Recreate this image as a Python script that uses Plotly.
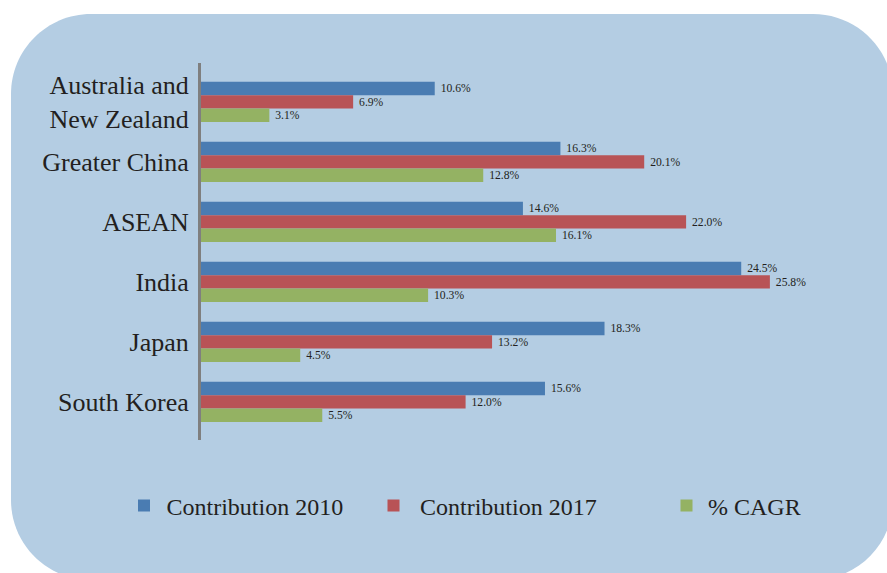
import plotly.graph_objects as go

W, H = 887, 573

categories = ["Australia and<br>New Zealand", "Greater China", "ASEAN", "India", "Japan", "South Korea"]
contrib_2010 = [10.6, 16.3, 14.6, 24.5, 18.3, 15.6]
contrib_2017 = [6.9, 20.1, 22.0, 25.8, 13.2, 12.0]
cagr = [3.1, 12.8, 16.1, 10.3, 4.5, 5.5]
series_names = ["Contribution 2010", "Contribution 2017", "% CAGR"]

colors = ["#4A7CB2", "#B85356", "#94B263"]
bg = "#B4CDE3"
txt = "#231F20"
serif = "Liberation Serif"


def P(x, y):
    return f"{x / W:.5f},{1 - y / H:.5f}"


# rounded background panel (pixel geometry converted to paper coords)
L, T, R, B, r = 11, 14, 893, 580, 80
k = 0.5523 * r
path = (
    f"M{P(L + r, T)} L{P(R - r, T)} "
    f"C{P(R - r + k, T)} {P(R, T + r - k)} {P(R, T + r)} "
    f"L{P(R, B - r)} "
    f"C{P(R, B - r + k)} {P(R - r + k, B)} {P(R - r, B)} "
    f"L{P(L + r, B)} "
    f"C{P(L + r - k, B)} {P(L, B - r + k)} {P(L, B - r)} "
    f"L{P(L, T + r)} "
    f"C{P(L, T + r - k)} {P(L + r - k, T)} {P(L + r, T)} Z"
)

fig = go.Figure()
legends = ["legend", "legend2", "legend3"]
for name, vals, col, lg in zip(series_names, [contrib_2010, contrib_2017, cagr], colors, legends):
    fig.add_trace(go.Bar(
        y=categories, x=vals, name=name, orientation="h",
        marker=dict(color=col, line=dict(width=0)),
        texttemplate="\u00a0%{x:.1f}%", textposition="outside",
        textfont=dict(family=serif, size=13, color=txt),
        cliponaxis=False, legend=lg, showlegend=True,
    ))

x0_px, x1_px = 201, 862
y_top, y_bot = 63, 440
legend_y = 1 - 506 / H
leg_font = dict(family=serif, size=24, color=txt)
leg_common = dict(y=legend_y, xanchor="left", yanchor="middle",
                  bgcolor="rgba(0,0,0,0)", font=leg_font)

fig.update_layout(
    width=W, height=H,
    margin=dict(l=0, r=0, t=0, b=0),
    paper_bgcolor="white", plot_bgcolor="rgba(0,0,0,0)",
    showlegend=True,
    font=dict(family=serif, color=txt),
    barmode="group", bargap=0.328, bargroupgap=0,
    xaxis=dict(domain=[x0_px / W, x1_px / W], range=[0, (x1_px - x0_px) / 22.05],
               showgrid=False, zeroline=False, showticklabels=False, showline=False),
    yaxis=dict(domain=[1 - y_bot / H, 1 - y_top / H], range=[5.635, -0.648],
               categoryorder="array", categoryarray=categories,
               showgrid=False, zeroline=False, showline=True, linewidth=3, linecolor="#7F7F7F",
               ticks="", ticklabelstandoff=4,
               tickfont=dict(family=serif, size=26, color=txt)),
    shapes=[dict(type="path", path=path, xref="paper", yref="paper",
                 fillcolor=bg, line=dict(width=0), layer="below")],
    legend=dict(x=121.5 / W, itemwidth=35, **leg_common),
    legend2=dict(x=367 / W, itemwidth=43, **leg_common),
    legend3=dict(x=665 / W, itemwidth=33, **leg_common),
)

fig.write_html("out.html")
